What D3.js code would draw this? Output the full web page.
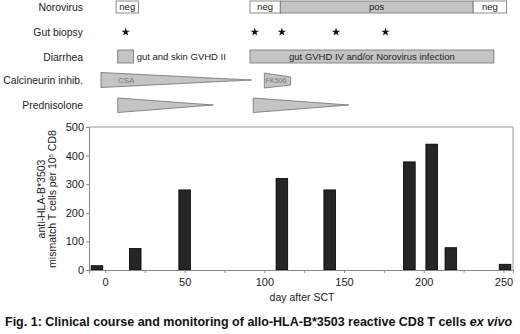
<!DOCTYPE html>
<html>
<head>
<meta charset="utf-8">
<script src="https://cdn.jsdelivr.net/npm/d3@7"></script>
<style>
  body { margin: 0; background: #fff; }
  svg { font-family: "Liberation Sans", Arial, sans-serif; }
</style>
</head>
<body>
<div id="chart"></div>
<script>
// bar chart data (day after SCT, cells per 10^5 CD8)
const days = [-5, 19, 50, 111, 141, 191, 205, 217, 251];
const counts = [15, 75, 280, 320, 280, 378, 440, 78, 20];
const xTicks = [0, 50, 100, 150, 200, 250];
const yTicks = [0, 100, 200, 300, 400, 500];

// clinical course rows
const rowLabels = ["Norovirus", "Gut biopsy", "Diarrhea", "Calcineurin inhib.", "Prednisolone"];
const noroStart = [7, 91, 110, 231];
const noroEnd = [21, 110, 231, 252];
const noroText = ["neg", "neg", "pos", "neg"];
const biopsyDays = [13, 94, 111, 145, 176];
const diarStart = [8, 91];
const diarEnd = [18, 244];
const diarText = ["gut and skin GVHD II", "gut GVHD IV and/or Norovirus infection"];
const cniStart = [-2.5, 100];
const cniEnd = [92, 116.5];
const cniText = ["CSA", "FK506"];
const predStart = [8, 93];
const predEnd = [68, 153];

const W = 520, H = 334;
const svg = d3.select("#chart").append("svg").attr("width", W).attr("height", H);

const x = d3.scaleLinear().domain([-10, 256]).range([89, 513]);
const y = d3.scaleLinear().domain([0, 500]).range([270, 127]);

const rowY = [7, 32, 57, 80, 105];
const grey = "#c4c4c4", edge = "#707070";

// row labels
svg.selectAll(".rowlab")
    .data(rowLabels)
    .enter().append("text")
    .attr("x", 83)
    .attr("y", (d, i) => rowY[i])
    .attr("dy", "0.35em")
    .attr("text-anchor", "end")
    .style("font-size", "10.4px")
    .style("fill", "#222")
    .text(d => d);

// Norovirus status
noroText.forEach((t, i) => {
    svg.append("rect")
        .attr("x", x(noroStart[i])).attr("y", 1)
        .attr("width", x(noroEnd[i]) - x(noroStart[i])).attr("height", 12)
        .attr("fill", t == "pos" ? grey : "#fff")
        .attr("stroke", edge).attr("stroke-width", 0.8);
    svg.append("text")
        .attr("x", (x(noroStart[i]) + x(noroEnd[i])) / 2).attr("y", 7)
        .attr("dy", "0.35em").attr("text-anchor", "middle")
        .style("font-size", "9.5px").style("fill", "#222")
        .text(t);
});

// gut biopsies
svg.selectAll(".star")
    .data(biopsyDays)
    .enter().append("path")
    .attr("d", d3.symbol(d3.symbolStar, 22))
    .attr("transform", d => `translate(${x(d)},${rowY[1]})`)
    .attr("fill", "#111");

// diarrhea
diarStart.forEach((s, i) => {
    svg.append("rect")
        .attr("x", x(s)).attr("y", 50)
        .attr("width", x(diarEnd[i]) - x(s)).attr("height", 13)
        .attr("fill", grey).attr("stroke", edge).attr("stroke-width", 0.8);
});
svg.append("text")
    .attr("x", x(diarEnd[0]) + 3).attr("y", 57).attr("dy", "0.35em")
    .style("font-size", "9.5px").style("fill", "#222")
    .text(diarText[0]);
svg.append("text")
    .attr("x", (x(diarStart[1]) + x(diarEnd[1])) / 2).attr("y", 57).attr("dy", "0.35em")
    .attr("text-anchor", "middle")
    .style("font-size", "9.5px").style("fill", "#222")
    .text(diarText[1]);

// calcineurin inhibitors: CSA taper, FK506 trapezoid
svg.append("path")
    .attr("d", `M${x(cniStart[0])},72.5 L${x(cniEnd[0])},80 L${x(cniStart[0])},87.5 Z`)
    .attr("fill", grey).attr("stroke", edge).attr("stroke-width", 0.8);
svg.append("path")
    .attr("d", `M${x(cniStart[1])},73 L${x(cniEnd[1])},77 L${x(cniEnd[1])},85 L${x(cniStart[1])},88 Z`)
    .attr("fill", grey).attr("stroke", edge).attr("stroke-width", 0.8);
svg.append("text")
    .attr("x", x(cniStart[0]) + 17).attr("y", 80).attr("dy", "0.35em")
    .style("font-size", "8px").style("fill", "#777")
    .text(cniText[0]);
svg.append("text")
    .attr("x", x(cniStart[1]) + 1.5).attr("y", 80.5).attr("dy", "0.35em")
    .style("font-size", "7px").style("fill", "#777")
    .text(cniText[1]);

// prednisolone tapers
predStart.forEach((s, i) => {
    svg.append("path")
        .attr("d", `M${x(s)},98 L${x(predEnd[i])},105 L${x(s)},112.5 Z`)
        .attr("fill", grey).attr("stroke", edge).attr("stroke-width", 0.8);
});

// plot frame (top/right)
svg.append("path")
    .attr("d", `M${x(-10)},${y(500)} H${x(256)} V${y(0)}`)
    .attr("fill", "none").attr("stroke", "#999");

// bars
svg.selectAll(".bar")
    .data(days)
    .enter().append("rect")
    .attr("class", "bar")
    .attr("x", d => x(d) - 5.8)
    .attr("y", (d, i) => y(counts[i]))
    .attr("width", 11.6)
    .attr("height", (d, i) => y(0) - y(counts[i]))
    .attr("fill", "#262626")
    .attr("stroke", "#000").attr("stroke-width", 0.8);

// axes
const xAxis = svg.append("g")
    .attr("transform", `translate(0,${y(0)})`)
    .call(d3.axisBottom(x).tickValues(d3.range(0, 251, 25)).tickSize(3)
        .tickFormat(d => xTicks.includes(d) ? d : ""));
xAxis.select(".domain").attr("stroke", "#888");
xAxis.selectAll("line").attr("stroke", "#888");
xAxis.selectAll("text").style("font-size", "11px").style("fill", "#222").attr("dy", "0.95em");

const yAxis = svg.append("g")
    .attr("transform", `translate(${x(-10)},0)`)
    .call(d3.axisLeft(y).tickValues(yTicks).tickSize(3).tickPadding(2));
yAxis.select(".domain").attr("stroke", "#888");
yAxis.selectAll("line").attr("stroke", "#888");
yAxis.selectAll("text").style("font-size", "11px").style("fill", "#222");

// axis titles
const yl = svg.append("text")
    .attr("transform", `translate(47,199) rotate(-90)`)
    .attr("text-anchor", "middle")
    .style("font-size", "10.5px").style("fill", "#222");
yl.append("tspan").attr("x", 0).attr("dy", "-0.2em").text("anti-HLA-B*3503");
const l2 = yl.append("tspan").attr("x", 0).attr("dy", "1.1em").text("mismatch T cells per 10");
l2.append("tspan").attr("baseline-shift", "super").style("font-size", "6px").text("5");
l2.append("tspan").text(" CD8");

svg.append("text")
    .attr("x", 302).attr("y", 297).attr("dy", "0.35em")
    .attr("text-anchor", "middle")
    .style("font-size", "10.5px").style("fill", "#222")
    .text("day after SCT");

// caption
const cap = svg.append("text")
    .attr("x", 5).attr("y", 322).attr("dy", "0.35em")
    .style("font-size", "12.5px").style("font-weight", "bold").style("fill", "#111");
cap.append("tspan").text("Fig. 1: Clinical course and monitoring of allo-HLA-B*3503 reactive CD8 T cells ");
cap.append("tspan").style("font-style", "italic").text("ex vivo");
</script>
</body>
</html>
